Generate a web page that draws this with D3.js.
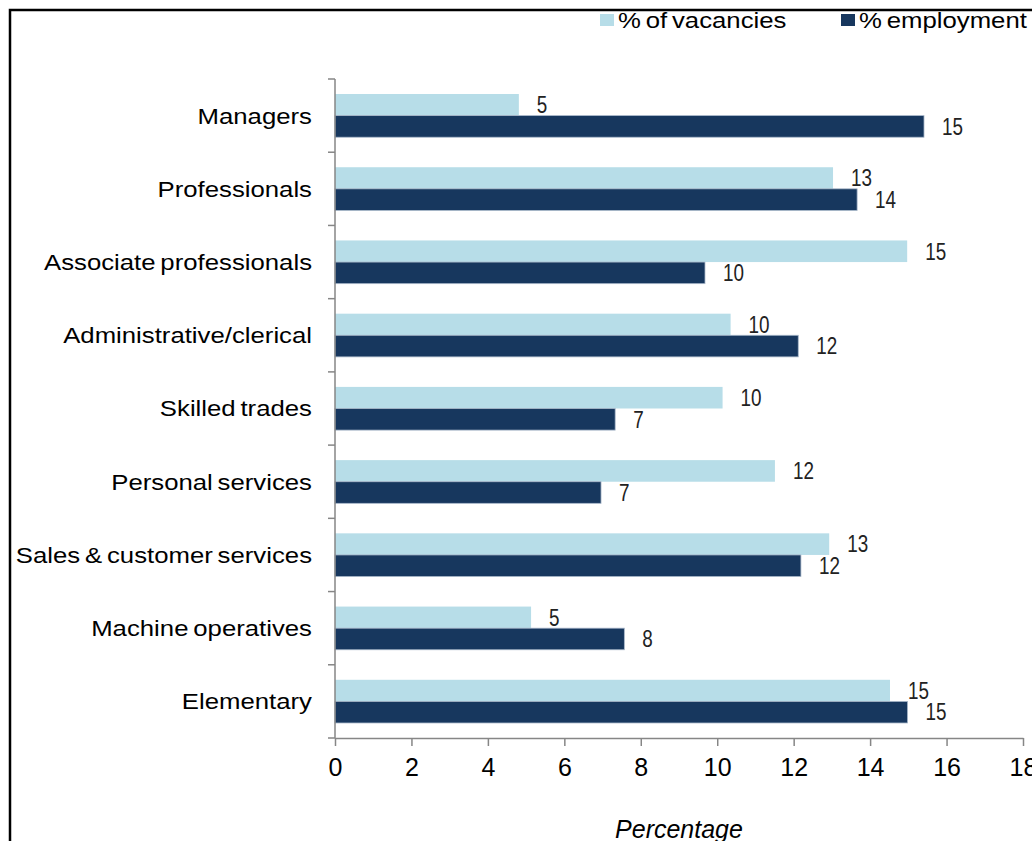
<!DOCTYPE html>
<html>
<head>
<meta charset="utf-8">
<script src="https://cdn.jsdelivr.net/npm/d3@7"></script>
<style>
  html, body { margin: 0; padding: 0; background: #fff; }
  svg { display: block; font-family: "Liberation Sans", Arial, sans-serif; }
</style>
</head>
<body>
<svg id="chart" width="1032" height="841"></svg>
<script>
// Occupational groups, top to bottom
const categories = [
  "Managers",
  "Professionals",
  "Associate professionals",
  "Administrative/clerical",
  "Skilled trades",
  "Personal services",
  "Sales & customer services",
  "Machine operatives",
  "Elementary"
];
const seriesNames = ["% of vacancies", "% employment"];
const vacancies  = [4.81, 13.03, 14.97, 10.35, 10.14, 11.51, 12.93, 5.13, 14.52];
const employment = [15.41, 13.66, 9.68, 12.12, 7.33, 6.96, 12.19, 7.57, 14.98];
const xTicks = [0, 2, 4, 6, 8, 10, 12, 14, 16, 18];
const colors = ["#b7dde8", "#17375e"];

const svg = d3.select("#chart");

// outer frame (runs past the right and bottom edges)
svg.append("rect")
  .attr("x", 10).attr("y", 10)
  .attr("width", 1100).attr("height", 900)
  .attr("fill", "none").attr("stroke", "#000").attr("stroke-width", 2.5);

const x = d3.scaleLinear().domain([0, 18]).range([335, 1023]);
const y = d3.scaleBand().domain(categories).range([79, 738])
  .paddingInner(0.41).paddingOuter(0.205);
const sub = d3.scaleBand().domain([0, 1]).range([0, y.bandwidth()]);

const rows = categories.map((c, i) => ({ c, vals: [vacancies[i], employment[i]] }));

// bars
const g = svg.append("g");
const groups = g.selectAll("g.row").data(rows).join("g")
  .attr("transform", d => `translate(0,${y(d.c)})`);

groups.selectAll("rect").data(d => d.vals.map((v, k) => ({ v, k }))).join("rect")
  .attr("x", x(0))
  .attr("y", d => sub(d.k))
  .attr("width", d => x(d.v) - x(0))
  .attr("height", sub.bandwidth())
  .attr("fill", d => colors[d.k])
  .attr("stroke", d => d.k === 1 ? "#a9b8ca" : "none")
  .attr("stroke-width", 0.8);

// value labels
const fmt = d3.format(".0f");
groups.selectAll("text.val").data(d => d.vals.map((v, k) => ({ v, k }))).join("text")
  .attr("class", "val")
  .attr("transform", d => `translate(${x(d.v) + 18},${sub(d.k) + sub.bandwidth() / 2}) scale(0.82,1)`)
  .attr("dy", "0.36em")
  .attr("font-size", 23)
  .attr("fill", "#222")
  .text(d => fmt(d.v));

// axes
const axisColor = "#868686";
const yAxis = svg.append("g").attr("transform", `translate(${x(0)},0)`);
yAxis.append("line").attr("x1", 0).attr("x2", 0).attr("y1", 79).attr("y2", 738)
  .attr("stroke", axisColor).attr("stroke-width", 1.5);
const bounds = categories.map(c => y(c) - y.step() * y.paddingInner() / 2);
bounds.push(738);
yAxis.selectAll("line.tk").data(bounds).join("line").attr("class", "tk")
  .attr("x1", -7).attr("x2", 0).attr("y1", d => d).attr("y2", d => d)
  .attr("stroke", axisColor).attr("stroke-width", 1.5);

const xAxis = svg.append("g").attr("transform", "translate(0,738)")
  .call(d3.axisBottom(x).tickValues(xTicks).tickSize(8).tickSizeOuter(0).tickPadding(12));
xAxis.select(".domain").attr("stroke", axisColor).attr("stroke-width", 1.5);
xAxis.selectAll(".tick line").attr("stroke", axisColor).attr("stroke-width", 1.5);
xAxis.selectAll(".tick text")
  .attr("font-size", 25).attr("fill", "#000")
  .attr("font-family", "'Liberation Sans', Arial, sans-serif");

// category labels (wide setting, tight word gaps)
svg.append("g").selectAll("text").data(categories).join("text")
  .attr("transform", d => `translate(312,${y(d) + y.bandwidth() / 2}) scale(1.17,1)`)
  .attr("dy", "0.36em")
  .attr("text-anchor", "end")
  .attr("font-size", 22)
  .attr("word-spacing", "-2px")
  .attr("fill", "#000")
  .text(d => d);

// axis title
svg.append("text")
  .attr("x", (x(0) + x(18)) / 2).attr("y", 838)
  .attr("text-anchor", "middle")
  .attr("font-size", 25).attr("font-style", "italic")
  .attr("fill", "#000")
  .text("Percentage");

// legend
const legendX = [600, 841];
const legend = svg.append("g").selectAll("g").data(seriesNames).join("g")
  .attr("transform", (d, i) => `translate(${legendX[i]},0)`);
legend.append("rect").attr("x", 0).attr("y", 14).attr("width", 14).attr("height", 12)
  .attr("fill", (d, i) => colors[i]);
legend.append("text")
  .attr("transform", "translate(18,28) scale(1.17,1)")
  .attr("font-size", 22)
  .attr("word-spacing", "-2px")
  .attr("fill", "#000")
  .text(d => d);
</script>
</body>
</html>
